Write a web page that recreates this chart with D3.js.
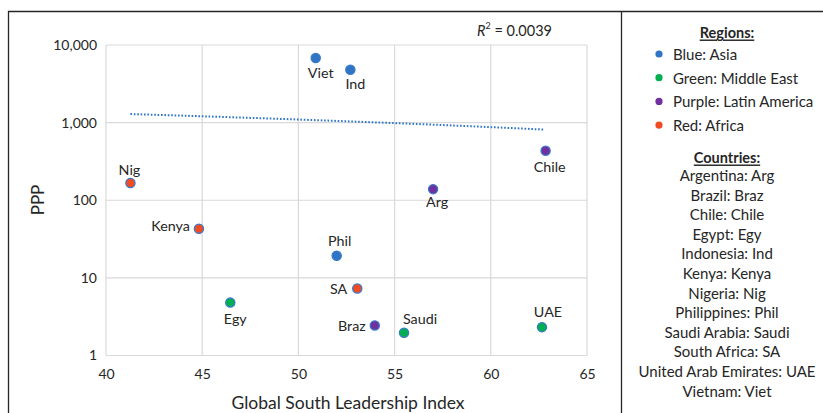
<!DOCTYPE html>
<html>
<head>
<meta charset="utf-8">
<script src="https://cdn.jsdelivr.net/npm/d3@7"></script>
<style>
  body { margin: 0; background: #fff; }
  svg text { font-family: Lato, "Open Sans", sans-serif; fill: #262626; }
</style>
</head>
<body>
<svg id="main" width="823" height="413"></svg>
<script>
svg = d3.select("#main")

// data
countries = ["Viet", "Ind", "Chile", "Arg", "Nig", "Kenya", "Egy", "Phil", "SA", "Braz", "Saudi", "UAE"]
gsli = [50.9, 52.7, 62.85, 57.0, 41.27, 44.83, 46.46, 51.99, 53.06, 53.97, 55.49, 62.66]
ppp = [6800, 4800, 434, 139, 167, 43, 4.8, 19.3, 7.3, 2.44, 1.96, 2.32]
region = ["Asia", "Asia", "Latin America", "Latin America", "Africa", "Africa", "Middle East",
  "Asia", "Africa", "Latin America", "Middle East", "Middle East"]

xTicks = [40, 45, 50, 55, 60, 65]
yTicks = [1, 10, 100, 1000, 10000]

regionNames = ["Asia", "Middle East", "Latin America", "Africa"]
regionLabels = ["Blue: Asia", "Green: Middle East", "Purple: Latin America", "Red: Africa"]
regionColors = ["#2E75C4", "#00B050", "#7030A0", "#F04B23"]
countryKey = ["Argentina: Arg", "Brazil: Braz", "Chile: Chile", "Egypt: Egy", "Indonesia: Ind",
  "Kenya: Kenya", "Nigeria: Nig", "Philippines: Phil", "Saudi Arabia: Saudi", "South Africa: SA",
  "United Arab Emirates: UAE", "Vietnam: Viet"]
r2Text = "0.0039"

// label placement relative to each point
labelPos = {
  Viet: [5, 14, "middle"], Ind: [5, 14, "middle"], Chile: [4, 16, "middle"],
  Arg: [4, 12, "middle"], Nig: [-1, -13, "middle"], Kenya: [-9, -3, "end"],
  Egy: [5, 16, "middle"], Phil: [3, -15, "middle"], SA: [-10, 0, "end"],
  Braz: [-9, 0, "end"], Saudi: [16, -14, "middle"], UAE: [6, -16, "middle"]
}

var x = d3.scaleLinear().domain([40, 65]).range([106, 587])
var y = d3.scaleLog().domain([1, 10000]).range([355.5, 45])
var color = d3.scaleOrdinal().domain(regionNames).range(regionColors)

// frame
svg.append("path").attr("d", "M8.5 413 V11.5 H823 M621.5 11.5 V413")
  .attr("fill", "none").attr("stroke", "#262626").attr("stroke-width", 1.3)

// grid
var grid = svg.append("g")
grid.selectAll(".vx").data(xTicks).enter().append("line")
  .attr("x1", d => x(d)).attr("x2", d => x(d)).attr("y1", y(10000)).attr("y2", y(1))
  .attr("stroke", "#d9d9d9").attr("stroke-width", 1.2)
grid.selectAll(".hy").data(yTicks).enter().append("line")
  .attr("x1", x(40)).attr("x2", x(65)).attr("y1", d => y(d)).attr("y2", d => y(d))
  .attr("stroke", "#d9d9d9").attr("stroke-width", 1.2)

// axes
var xAxis = svg.append("g").attr("transform", "translate(0," + y(1) + ")")
  .call(d3.axisBottom(x).tickValues(xTicks).tickSize(0).tickPadding(14))
var yAxis = svg.append("g").attr("transform", "translate(" + x(40) + ",0)")
  .call(d3.axisLeft(y).tickValues(yTicks).tickFormat(d3.format(",")).tickSize(0).tickPadding(9))
svg.selectAll(".domain").remove()
svg.selectAll(".tick text").attr("font-size", 14).attr("font-family", "Lato").attr("fill", "#333")

svg.append("text").attr("x", 348).attr("y", 402).attr("text-anchor", "middle")
  .attr("dominant-baseline", "central").attr("font-size", 17.5).text("Global South Leadership Index")
svg.append("text").attr("transform", "translate(37,200) rotate(-90)").attr("text-anchor", "middle")
  .attr("dominant-baseline", "central").attr("font-size", 17).text("PPP")

// linear trendline on raw values
var pts = countries.map((c, i) => ({ c: c, x: gsli[i], y: ppp[i], r: region[i] }))
var mx = d3.mean(gsli), my = d3.mean(ppp)
var sxy = d3.sum(pts, p => (p.x - mx) * (p.y - my))
var sxx = d3.sum(pts, p => (p.x - mx) * (p.x - mx))
var slope = sxy / sxx, icpt = my - slope * mx
var xs = d3.range(d3.min(gsli), d3.max(gsli) + 0.001, 0.25)
svg.append("path")
  .attr("d", d3.line().x(d => x(d)).y(d => y(icpt + slope * d))(xs))
  .attr("fill", "none").attr("stroke", "#2E75C4").attr("stroke-width", 2)
  .attr("stroke-dasharray", "1.6,1.8")

svg.append("text").attr("x", 477).attr("y", 30).attr("dominant-baseline", "central")
  .attr("font-size", 14.5)
  .html('<tspan font-style="italic">R</tspan><tspan font-size="9" dy="-5">2</tspan><tspan dy="5"> = ' + r2Text + '</tspan>')

// points
svg.selectAll(".pt").data(pts).enter().append("circle")
  .attr("cx", d => x(d.x)).attr("cy", d => y(d.y)).attr("r", 4.6)
  .attr("fill", d => color(d.r)).attr("stroke", "#3A78C8").attr("stroke-width", 1.3)

svg.selectAll(".lbl").data(pts).enter().append("text")
  .attr("x", d => x(d.x) + labelPos[d.c][0]).attr("y", d => y(d.y) + labelPos[d.c][1])
  .attr("text-anchor", d => labelPos[d.c][2]).attr("dominant-baseline", "central")
  .attr("font-size", 14.3).attr("fill", "#333").text(d => d.c)

// legend panel
var lg = svg.append("g")
lg.append("text").attr("x", 727).attr("y", 32).attr("text-anchor", "middle")
  .attr("dominant-baseline", "central").attr("font-size", 14.5).attr("font-weight", "bold")
  .attr("text-decoration", "underline").text("Regions:")
lg.selectAll(".ld").data(regionNames).enter().append("circle")
  .attr("cx", 659).attr("cy", (d, i) => 54 + i * 23.7).attr("r", 3.6)
  .attr("fill", d => color(d))
lg.selectAll(".lt").data(regionLabels).enter().append("text")
  .attr("x", 673).attr("y", (d, i) => 54 + i * 23.7).attr("dominant-baseline", "central")
  .attr("font-size", 15).text(d => d)

lg.append("text").attr("x", 727).attr("y", 157).attr("text-anchor", "middle")
  .attr("dominant-baseline", "central").attr("font-size", 14.5).attr("font-weight", "bold")
  .attr("text-decoration", "underline").text("Countries:")
lg.selectAll(".ck").data(countryKey).enter().append("text")
  .attr("x", 727).attr("y", (d, i) => 175 + i * 19.6).attr("text-anchor", "middle")
  .attr("dominant-baseline", "central").attr("font-size", 15).text(d => d)
</script>
</body>
</html>
